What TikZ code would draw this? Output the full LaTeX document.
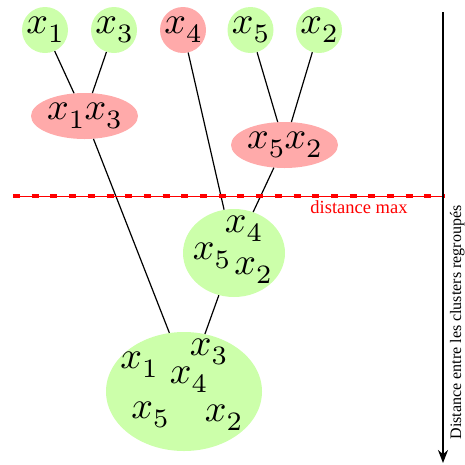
\documentclass[tikz,border=0pt]{standalone}
\usepackage{fontspec}
\setmainfont{Liberation Serif}
\DeclareFontShape{OML}{cmm}{m}{it}{<-30>cmmi7 <30->cmmi10}{}
\DeclareFontShape{OT1}{cmr}{m}{n}{<-30>cmr7 <30->cmr10}{}
\usetikzlibrary{arrows.meta,shapes.geometric}
\definecolor{vert}{RGB}{204,255,170}
\definecolor{rose}{RGB}{255,170,170}
\tikzset{
  leaf/.style={circle,inner sep=0pt,minimum size=46pt,font=\fontsize{38}{46}\selectfont},
  clu/.style={ellipse,inner sep=0pt,font=\fontsize{38}{46}\selectfont},
  lab/.style={inner sep=0pt,font=\fontsize{38}{46}\selectfont},
  lien/.style={line width=1.2pt}
}
\begin{document}
\begin{tikzpicture}[x=1pt,y=-1pt]
\useasboundingbox (0,0) rectangle (465,464);
% feuilles
\foreach \n/\x/\c in {1/45/vert,3/114/vert,4/183/rose,5/250.5/vert,2/319/vert}{\node[leaf,fill=\c] (l\n) at (\x,30){$x_\n$};}
% clusters
\node[clu,fill=rose,minimum width=107pt,minimum height=46pt] (c13) at (84.5,116){$x_1x_3$};
\node[clu,fill=rose,minimum width=107pt,minimum height=46pt] (c52) at (284.5,145){$x_5x_2$};
\node[clu,fill=vert,minimum width=102pt,minimum height=88pt] (c452) at (234,253){};
\node[lab] (m4) at (243.5,229){$x_4$};
\node[lab] (m5) at (211.5,256){$x_5$};
\node[lab] (m2) at (253,271){$x_2$};
\node[clu,fill=vert,minimum width=156pt,minimum height=119pt] (tout) at (184,391.5){};
\node[lab] (t1) at (139,365){$x_1$};
\node[lab] (t3) at (208.5,352){$x_3$};
\node[lab] (t4) at (188.5,380){$x_4$};
\node[lab] (t5) at (150,415){$x_5$};
\node[lab] (t2) at (223.5,418){$x_2$};
% liens
\draw[lien] (l1)--(c13);
\draw[lien] (l3)--(c13);
\draw[lien] (l5)--(c52);
\draw[lien] (l2)--(c52);
\draw[lien] (l4)--(c452);
\draw[lien] (c52)--(c452);
\draw[lien] (c13)--(tout.104);
\draw[lien] (c452)--(tout.70);
% distance max
\coordinate (dg) at (13,196);
\coordinate (dd) at (445,196);
\draw[red,line width=1pt] (dg)--(dd);
\draw[red,line width=4pt,dash pattern=on 7pt off 11.7pt] (dg)--(dd);
\node[red,anchor=base,inner sep=0pt,font=\fontsize{18.5}{22}\selectfont] (dmax) at (359,213){distance max};
% axe
\coordinate (ah) at (443,12);
\coordinate (ab) at (443,463);
\draw[-{Stealth[length=13pt,width=10pt]},line width=2pt] (ah)--(ab);
\node[rotate=90,anchor=base,inner sep=0pt,font=\fontsize{16}{19}\selectfont] (axe) at (461,322.5){Distance entre les clusters regroupés};
\end{tikzpicture}
\end{document}
